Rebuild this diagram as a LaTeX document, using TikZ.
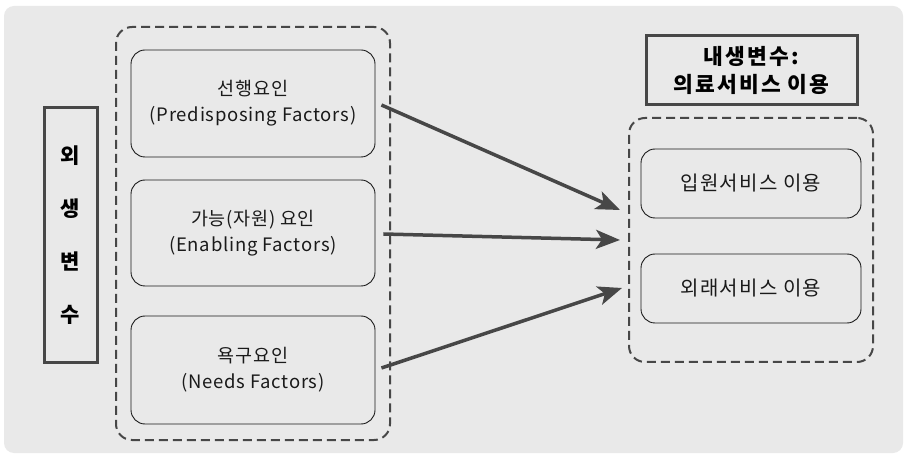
\documentclass[tikz,border=0pt]{standalone}
\usepackage{fontspec}
\setmainfont{Noto Sans CJK KR}
\usetikzlibrary{arrows.meta,calc}
\definecolor{bg}{HTML}{E9E9E9}
\definecolor{dk}{HTML}{474747}
\definecolor{tx}{HTML}{1A1A1A}
\tikzset{
  factor/.style={draw=tx, line width=0.9pt, rounded corners=14pt, minimum width=244pt, align=center, text=tx, font=\fontsize{18.5}{26}\selectfont\addfontfeature{LetterSpace=4}, inner sep=0pt},
  outcome/.style={draw=tx, line width=0.9pt, rounded corners=14pt, minimum width=220pt, minimum height=69pt, text=tx, font=\fontsize{20}{26}\selectfont\addfontfeature{LetterSpace=6}, inner sep=0pt},
  group/.style={draw=dk, line width=2pt, dash pattern=on 9pt off 5pt, rounded corners=16pt, inner sep=0pt},
  label/.style={draw=dk, line width=3pt, text=black, font=\bfseries\fontsize{21.5}{28}\selectfont\addfontfeature{LetterSpace=10}, align=center, inner sep=0pt},
  link/.style={draw=dk, line width=3.5pt, -{Stealth[length=24pt,width=19pt,inset=6pt]}}
}
\begin{document}
\begin{tikzpicture}[x=1pt,y=-1pt]
\useasboundingbox (0,0) rectangle (908,454);
\fill[white] (0,0) rectangle (908,454);
\fill[bg, rounded corners=10pt] (4,6) rectangle (903,453);
% left group
\node[group, minimum width=274pt, minimum height=413pt] (lg) at (253,233.5) {};
\node[factor, minimum height=107pt] (f1) at (253,103.5) {선행요인\\(Predisposing Factors)};
\node[factor, minimum height=106pt] (f2) at (253,233) {가능(자원) 요인\\(Enabling Factors)};
\node[factor, minimum height=108pt] (f3) at (253,370) {욕구요인\\(Needs Factors)};
\node[label, minimum width=53pt, minimum height=255pt, font=\bfseries\fontsize{21}{53}\selectfont] (ex) at (70.5,235.5) {외\\생\\변\\수};
% right side
\node[label, minimum width=211pt, minimum height=69pt] (en) at (751.5,70.5) {내생변수:\\의료서비스 이용};
\node[group, minimum width=244pt, minimum height=244pt] (rg) at (751,240) {};
\node[outcome] (o1) at (751,183.5) {입원서비스 이용};
\node[outcome] (o2) at (751,288.5) {외래서비스 이용};
% arrows
\coordinate (s1) at ([xshift=6pt,yshift=-1.5pt]f1.east);
\coordinate (s2) at ([xshift=8pt,yshift=-1pt]f2.east);
\coordinate (s3) at ([xshift=6pt,yshift=2pt]f3.east);
\coordinate (t1) at ([xshift=-8pt,yshift=30pt]rg.west);
\coordinate (t2) at ([xshift=-8pt]rg.west);
\coordinate (t3) at ([xshift=-6pt,yshift=-48pt]rg.west);
\draw[link] (s1) -- (t1);
\draw[link] (s2) -- (t2);
\draw[link] (s3) -- (t3);
\end{tikzpicture}
\end{document}
